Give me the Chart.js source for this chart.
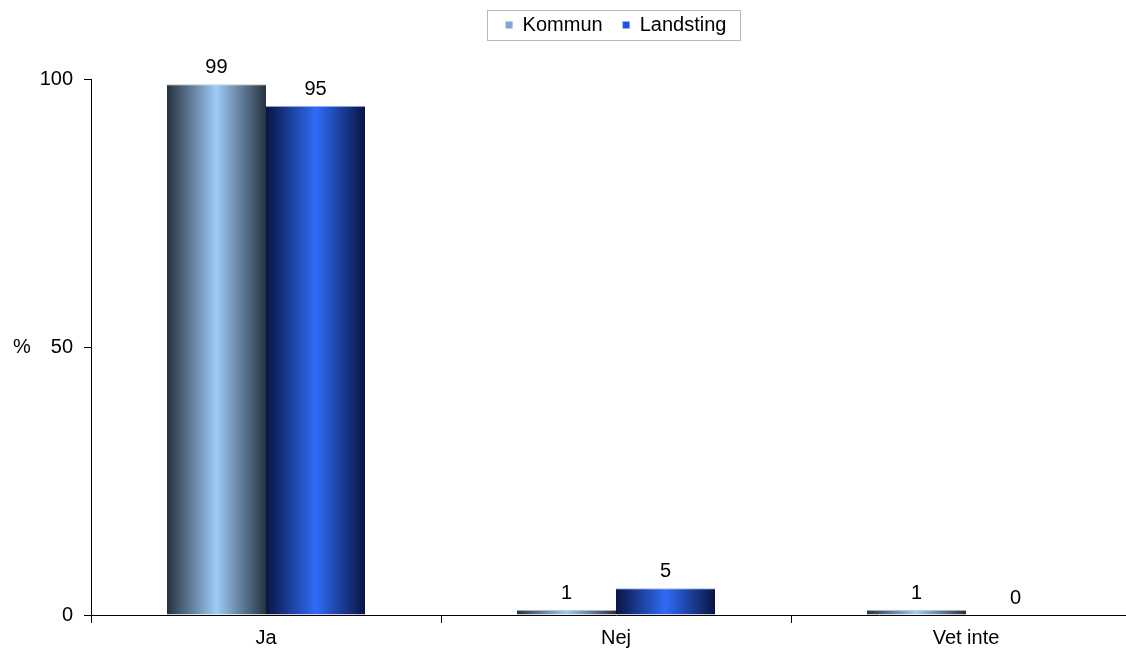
<!DOCTYPE html>
<html>
<head>
<meta charset="utf-8">
<script src="https://cdn.jsdelivr.net/npm/chart.js@4.4.1/dist/chart.umd.min.js"></script>
<style>
  html, body { margin: 0; padding: 0; background: #fff; overflow: hidden; }
  /* the plot runs a little past the right edge of the window, as in the original */
  #wrap { width: 1141px; height: 650px; position: relative; }
</style>
</head>
<body>
<div id="wrap"><canvas id="chart"></canvas></div>
<script>
const categories = ["Ja", "Nej", "Vet inte"];
const kommunValues = [99, 1, 1];
const landstingValues = [95, 5, 0];
const seriesNames = ["Kommun", "Landsting"];
const yMin = 0, yMax = 100, yStep = 50;
const yAxisLabel = "%";

// edge / centre colours for the cylinder-ish bar shading
const shades = [
  { edge: "#26323e", mid: "#9ecbf9", legend: "#7ea9d6", border: "#c4c4c4" },
  { edge: "#0a1442", mid: "#2f6cf6", legend: "#2451e0", border: "#9fb8ff" }
];

Chart.defaults.font.family = '"Liberation Sans", Arial, sans-serif';
Chart.defaults.font.size = 20;
Chart.defaults.color = "#000";

const barShading = {
  id: "barShading",
  beforeDatasetsDraw(chart) {
    const ctx = chart.ctx;
    chart.data.datasets.forEach((ds, di) => {
      const s = shades[di];
      chart.getDatasetMeta(di).data.forEach(bar => {
        const { x, width } = bar.getProps(["x", "width"], true);
        const g = ctx.createLinearGradient(x - width / 2, 0, x + width / 2, 0);
        g.addColorStop(0, s.edge);
        g.addColorStop(0.5, s.mid);
        g.addColorStop(1, s.edge);
        bar.options = Object.assign({}, bar.options, { backgroundColor: g });
      });
    });
  }
};

const valueLabels = {
  id: "valueLabels",
  afterDatasetsDraw(chart) {
    const ctx = chart.ctx;
    ctx.save();
    ctx.font = '20px "Liberation Sans", Arial, sans-serif';
    ctx.fillStyle = "#000";
    ctx.textAlign = "center";
    ctx.textBaseline = "alphabetic";
    chart.data.datasets.forEach((ds, di) => {
      chart.getDatasetMeta(di).data.forEach((bar, i) => {
        ctx.fillText(String(ds.data[i]), bar.x, bar.y - 11);
      });
    });
    ctx.restore();
  }
};

const legendFrame = {
  id: "legendFrame",
  afterLayout(chart) {
    // centre the legend over the plot area
    const lg = chart.legend, ca = chart.chartArea;
    const d = (ca.left + ca.right) / 2 - (lg.left + lg.right) / 2;
    lg.left += d;
    lg.right += d;
  },
  afterDraw(chart) {
    const hb = chart.legend.legendHitBoxes;
    if (!hb || !hb.length) return;
    const ctx = chart.ctx;
    const left = Math.min(...hb.map(h => h.left)) - 19;
    const right = Math.max(...hb.map(h => h.left + h.width)) + 13;
    const top = hb[0].top + hb[0].height / 2 - 15;
    ctx.save();
    ctx.strokeStyle = "#b8b8b8";
    ctx.lineWidth = 1;
    ctx.strokeRect(Math.round(left) + 0.5, Math.round(top) + 0.5, Math.round(right - left), 30);
    // y-axis unit, written horizontally
    const y = chart.scales.y;
    ctx.font = '20px "Liberation Sans", Arial, sans-serif';
    ctx.fillStyle = "#000";
    ctx.textAlign = "center";
    ctx.textBaseline = "middle";
    ctx.fillText(yAxisLabel, 22, y.getPixelForValue(50));
    ctx.restore();
  }
};

new Chart(document.getElementById("chart"), {
  type: "bar",
  data: {
    labels: categories,
    datasets: [
      {
        label: seriesNames[0],
        data: kommunValues,
        backgroundColor: shades[0].legend,
        borderColor: shades[0].border,
        borderWidth: { top: 1, left: 0, right: 0, bottom: 0 },
        borderSkipped: "bottom"
      },
      {
        label: seriesNames[1],
        data: landstingValues,
        backgroundColor: shades[1].legend,
        borderColor: shades[1].border,
        borderWidth: { top: 1, left: 0, right: 0, bottom: 0 },
        borderSkipped: "bottom"
      }
    ]
  },
  options: {
    responsive: true,
    maintainAspectRatio: false,
    animation: false,
    layout: { padding: { top: -5, right: 0, left: 0, bottom: 0 } },
    datasets: {
      bar: { categoryPercentage: 0.566, barPercentage: 1.0 }
    },
    plugins: {
      legend: {
        position: "top",
        labels: { boxWidth: 7, boxHeight: 7, padding: 20, font: { size: 20 } }
      },
      title: {
        display: true,
        text: "",
        weight: 500,
        font: { size: 10, lineHeight: 1 },
        padding: { top: 24, bottom: 0 }
      },
      tooltip: { enabled: false }
    },
    scales: {
      x: {
        grid: { display: true, drawOnChartArea: false, offset: true, tickLength: 8, color: "#000" },
        border: { color: "#000", width: 1 },
        ticks: { padding: 3, font: { size: 20 }, color: "#000" },
        afterFit(scale) { scale.height = 35; }
      },
      y: {
        min: yMin,
        max: yMax,
        grid: { display: true, drawOnChartArea: false, tickLength: 7, color: "#000" },
        border: { color: "#000", width: 1 },
        ticks: { stepSize: yStep, padding: 11, font: { size: 20 }, color: "#000" },
        afterFit(scale) { scale.width = 91; }
      }
    }
  },
  plugins: [barShading, valueLabels, legendFrame]
});
</script>
</body>
</html>
